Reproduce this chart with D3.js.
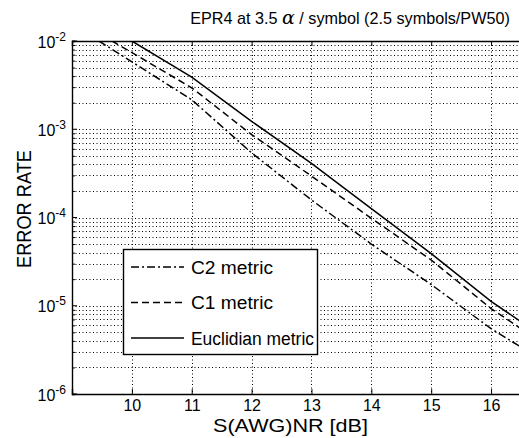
<!DOCTYPE html>
<html>
<head>
<meta charset="utf-8">
<script src="https://cdn.jsdelivr.net/npm/d3@7"></script>
<style>
  body { margin: 0; background: #fff; }
  svg { font-family: "Liberation Sans", Arial, sans-serif; }
</style>
</head>
<body>
<script>
// data
const xTicks = [10, 11, 12, 13, 14, 15, 16];
const yTicks = [1e-2, 1e-3, 1e-4, 1e-5, 1e-6];
const yExp = ['-2', '-3', '-4', '-5', '-6'];

const snrC2 = [9.45, 11, 12, 13, 14, 15, 16, 16.5];
const errC2 = [1e-2, 2.16e-3, 5.4e-4, 1.58e-4, 5.0e-5, 1.74e-5, 5.5e-6, 3.4e-6];

const snrC1 = [9.67, 11, 12, 13, 14, 15, 16, 16.5];
const errC1 = [1e-2, 2.95e-3, 8.7e-4, 2.95e-4, 9.8e-5, 3.3e-5, 9.3e-6, 5.5e-6];

const snrEuc = [10, 11, 12, 13, 14, 15, 16, 16.5];
const errEuc = [1e-2, 3.9e-3, 1.23e-3, 4.1e-4, 1.26e-4, 3.9e-5, 1.12e-5, 6.6e-6];

const legendNames = ['C2 metric', 'C1 metric', 'Euclidian metric'];
const legendWidths = [82, 82, 123];
const dashes = ['8,3,2,3', '7,4', null];

let width = 519, height = 438;
let mLeft = 72, mRight = 521, mTop = 41, mBottom = 394;

let svg = d3.select('body').append('svg').attr('width', width).attr('height', height);

let x = d3.scaleLinear().domain([9, 16.5]).range([mLeft, mRight]);
let y = d3.scaleLog().domain([1e-6, 1e-2]).range([mBottom, mTop]);

svg.append('defs').append('clipPath').attr('id', 'clip')
  .append('rect').attr('x', mLeft).attr('y', mTop).attr('width', mRight - mLeft).attr('height', mBottom - mTop);

// grid
let minor = [];
for (let e = -6; e < -2; e++) for (let m = 2; m < 10; m++) minor.push(m * Math.pow(10, e));
let grid = svg.append('g').attr('stroke', '#000').attr('stroke-width', 1).attr('stroke-dasharray', '1,2.5');
grid.selectAll('.gy').data(minor.concat(yTicks.slice(1, 4))).enter().append('line')
  .attr('x1', mLeft).attr('x2', mRight)
  .attr('y1', d => Math.round(y(d)) + 0.5).attr('y2', d => Math.round(y(d)) + 0.5);
grid.selectAll('.gx').data(xTicks).enter().append('line')
  .attr('y1', mTop).attr('y2', mBottom)
  .attr('x1', d => Math.round(x(d)) + 0.5).attr('x2', d => Math.round(x(d)) + 0.5);

// axes
svg.append('g').attr('transform', `translate(0,${mBottom})`)
  .call(d3.axisBottom(x).tickValues(xTicks).tickSize(-5).tickPadding(6).tickFormat(d3.format('d')))
  .call(g => g.select('.domain').attr('stroke-width', 1.4))
  .call(g => g.selectAll('text').attr('font-size', 16).attr('fill', '#000'));
svg.append('g').attr('transform', `translate(0,${mTop})`)
  .call(d3.axisTop(x).tickValues(xTicks).tickSize(-5).tickFormat(''))
  .call(g => g.select('.domain').attr('stroke-width', 1.4));
let ya = svg.append('g').attr('transform', `translate(${mLeft},0)`)
  .call(d3.axisLeft(y).tickValues(minor).tickSize(-3).tickFormat(''))
  .call(g => g.select('.domain').attr('stroke-width', 1.4));
ya.selectAll('.maj').data(yTicks).enter().append('line').attr('class', 'maj')
  .attr('x1', 0).attr('x2', 5).attr('y1', d => y(d)).attr('y2', d => y(d)).attr('stroke', '#000');

let ylab = svg.append('g').selectAll('text').data(yTicks).enter().append('text')
  .attr('x', mLeft - 6).attr('y', d => y(d) + 6.5).attr('text-anchor', 'end')
  .attr('font-size', 16);
ylab.append('tspan').text('10');
ylab.append('tspan').attr('font-size', 12).attr('dy', -7).text((d, i) => yExp[i]);

// curves
let line = d3.line().x(d => x(d[0])).y(d => y(d[1]));
let series = [d3.zip(snrC2, errC2), d3.zip(snrC1, errC1), d3.zip(snrEuc, errEuc)];
svg.append('g').attr('clip-path', 'url(#clip)').selectAll('path').data(series).enter().append('path')
  .attr('d', line).attr('fill', 'none').attr('stroke', '#000').attr('stroke-width', 1.5)
  .attr('stroke-dasharray', (d, i) => dashes[i]);

// legend
let lg = svg.append('g');
lg.append('rect').attr('x', 123.5).attr('y', 249.5).attr('width', 194).attr('height', 105)
  .attr('fill', '#fff').attr('stroke', '#000').attr('stroke-width', 1.4);
let rows = lg.selectAll('.row').data(legendNames).enter().append('g')
  .attr('transform', (d, i) => `translate(0,${267 + i * 35.5})`);
rows.append('line').attr('x1', 131).attr('x2', 184).attr('stroke', '#000').attr('stroke-width', 1.5)
  .attr('stroke-dasharray', (d, i) => dashes[i]);
rows.append('text').attr('x', 191).attr('y', 6.5).attr('font-size', 18)
  .attr('textLength', (d, i) => legendWidths[i]).attr('lengthAdjust', 'spacingAndGlyphs').text(d => d);

// labels
let title = svg.append('text').attr('x', 350).attr('y', 24).attr('text-anchor', 'middle').attr('font-size', 16.2);
title.append('tspan').text('EPR4 at 3.5 ');
title.append('tspan').attr('font-family', '"DejaVu Serif", serif').attr('font-style', 'italic').attr('font-size', 19).text('\u03b1');
title.append('tspan').text(' / symbol (2.5 symbols/PW50)');

svg.append('text').attr('x', 213).attr('y', 432).attr('font-size', 19)
  .attr('textLength', 155).attr('lengthAdjust', 'spacingAndGlyphs').text('S(AWG)NR [dB]');
svg.append('text').attr('transform', 'translate(31,268) rotate(-90)')
  .attr('font-size', 20).attr('textLength', 118).attr('lengthAdjust', 'spacingAndGlyphs').text('ERROR RATE');
</script>
</body>
</html>
